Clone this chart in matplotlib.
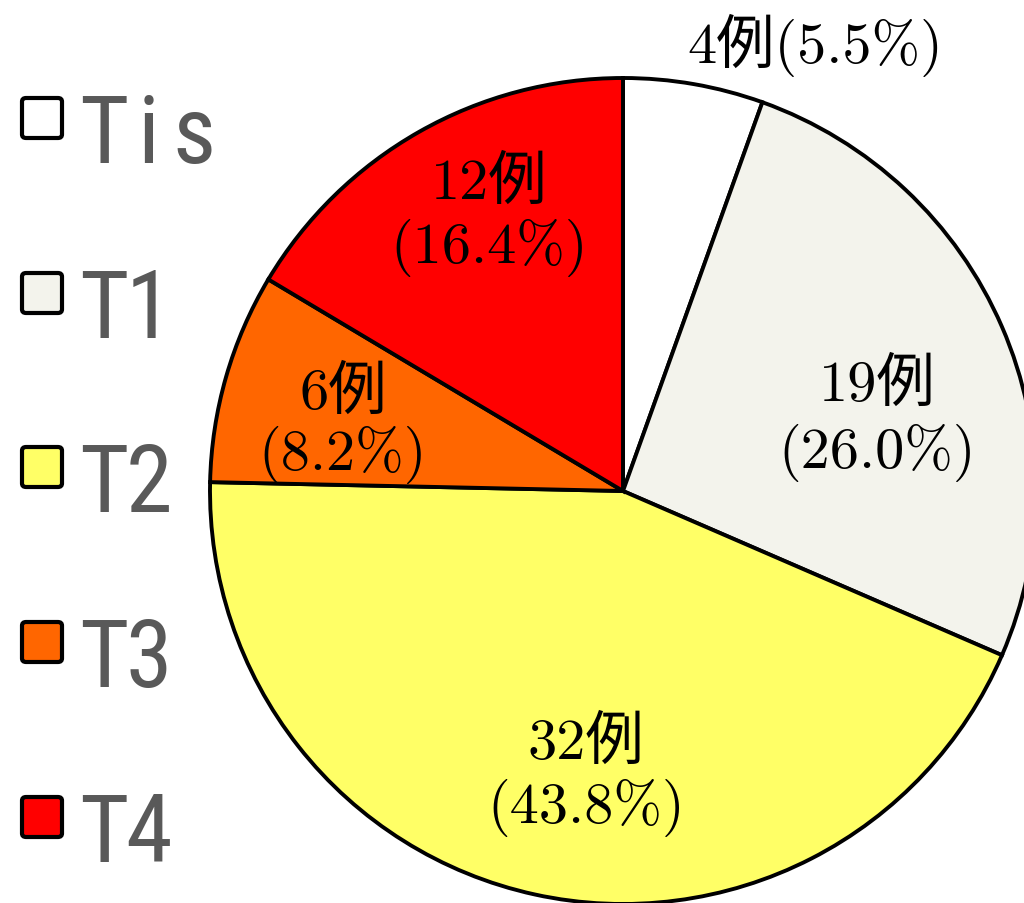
import matplotlib
matplotlib.use("Agg")
import matplotlib.pyplot as plt
from matplotlib.patches import FancyBboxPatch
from matplotlib import font_manager as fm

categories = ["Tis", "T1", "T2", "T3", "T4"]
counts = [4, 19, 32, 6, 12]
percents = ["5.5%", "26.0%", "43.8%", "8.2%", "16.4%"]
colors = ["#FFFFFF", "#F3F3EC", "#FFFF66", "#FF6600", "#FF0000"]

W, H = 1024, 904
fig = plt.figure(figsize=(W / 100, H / 100), dpi=100)
fig.patch.set_facecolor("white")

# pick a narrow sans font file if available
prefs = ["LiberationSansNarrow-Regular", "RobotoCondensed-Regular",
         "DejaVuSansCondensed.ttf", "OpenSans_Condensed-Regular",
         "OpenSansCondensed"]
leg_prop = None
files = [f.fname for f in fm.fontManager.ttflist]
for p in prefs:
    hits = [f for f in files if p in f.replace(" ", "")]
    if hits:
        leg_prop = fm.FontProperties(fname=hits[0], size=68)
        break
if leg_prop is None:
    leg_prop = fm.FontProperties(family="Roboto", size=62)

# pie axes: center (623,492) px, radius 413 px
cx, cy, R = 623, 492, 413
ax = fig.add_axes([(cx - R) / W, (H - cy - R) / H, 2 * R / W, 2 * R / H])

wedges, _ = ax.pie(counts, colors=colors, startangle=90, counterclock=False,
                   radius=1.0, center=(0, 0),
                   wedgeprops=dict(edgecolor="black", linewidth=2.8))
ax.set_xlim(-1, 1)
ax.set_ylim(-1, 1)
ax.set_aspect("equal")
ax.axis("off")
for w in wedges:
    w.set_clip_on(False)

def px(x, y):
    return ((x - cx) / R, (cy - y) / R)

lab_font = ["cmr10", "Noto Sans CJK JP"]
fs = 42
label_pos = {
    "Tis": [(815, 45)],
    "T1": [(877, 385), (877, 453)],
    "T2": [(586, 743), (586, 808)],
    "T3": [(343, 393), (343, 455)],
    "T4": [(489, 183), (489, 248)],
}
for cat, n, p in zip(categories, counts, percents):
    pos = label_pos[cat]
    if len(pos) == 1:
        x, y = px(*pos[0])
        ax.text(x, y, f"{n}例({p})", ha="center", va="center", fontsize=fs,
                family=lab_font, clip_on=False)
    else:
        x1, y1 = px(*pos[0])
        x2, y2 = px(*pos[1])
        ax.text(x1, y1, f"{n}例", ha="center", va="center", fontsize=fs,
                family=lab_font, clip_on=False)
        ax.text(x2, y2, f"({p})", ha="center", va="center", fontsize=fs,
                family=lab_font, clip_on=False)

# manual legend
sq_centers = [119, 294, 468, 643, 818]
for i, (cat, col) in enumerate(zip(categories, colors)):
    yc = sq_centers[i]
    s = 40
    rect = FancyBboxPatch((22 / W, (H - yc - s / 2) / H), s / W, s / H,
                          boxstyle="round,pad=0,rounding_size=0.004",
                          transform=fig.transFigure, facecolor=col,
                          edgecolor="black", linewidth=3.0)
    fig.add_artist(rect)
    for j, ch in enumerate(cat):
        fig.text((103.5 + 45 * j) / W, (H - yc - 44) / H, ch, ha="center",
                 va="baseline", color="#595959", fontproperties=leg_prop)

fig.savefig("out.png", dpi=100)
